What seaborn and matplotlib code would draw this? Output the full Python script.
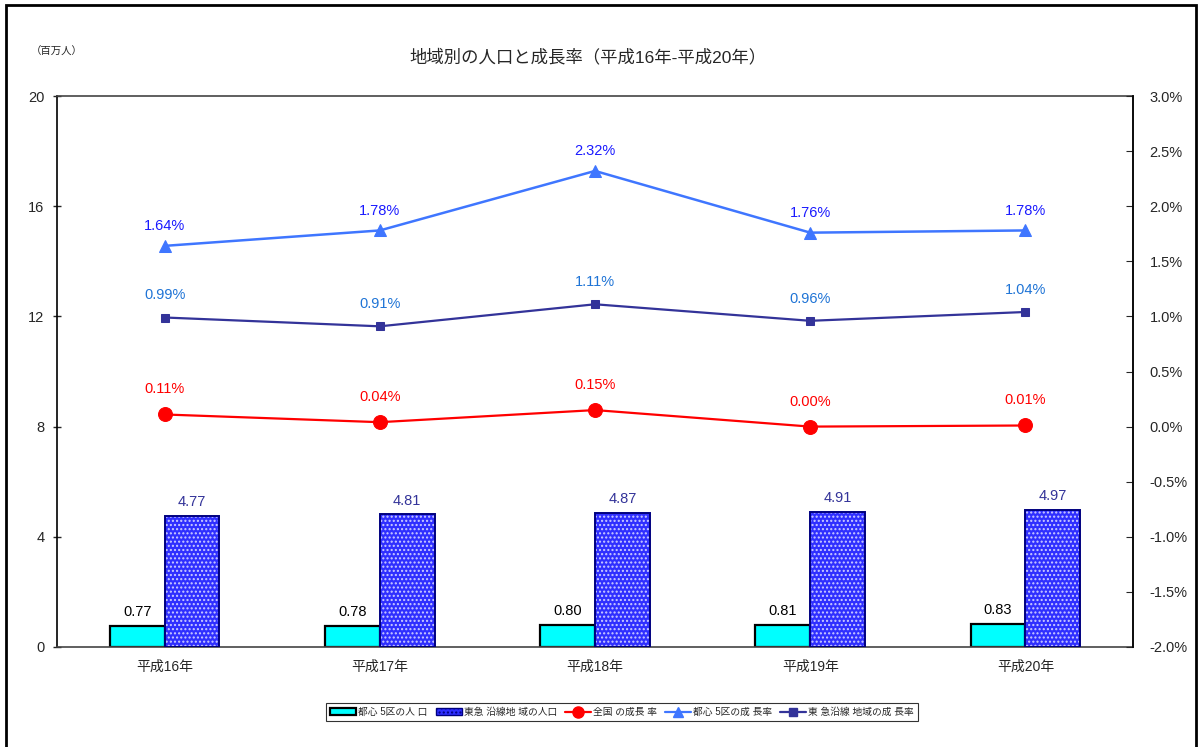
import numpy as np
import pandas as pd
import matplotlib
matplotlib.use("Agg")
import matplotlib.pyplot as plt
import seaborn as sns
from matplotlib.patches import Rectangle
from matplotlib.ticker import FuncFormatter, MultipleLocator
from matplotlib.lines import Line2D
from matplotlib.patches import Patch

# =============================================================================
# DATA
# =============================================================================
years = ['平成16年', '平成17年', '平成18年', '平成19年', '平成20年']
pop_toshin5 = [0.77, 0.78, 0.80, 0.81, 0.83]      # 百万人
pop_tokyu = [4.77, 4.81, 4.87, 4.91, 4.97]        # 百万人
growth_national = [0.11, 0.04, 0.15, 0.00, 0.01]  # %
growth_toshin5 = [1.64, 1.78, 2.32, 1.76, 1.78]   # %
growth_tokyu = [0.99, 0.91, 1.11, 0.96, 1.04]     # %

bar_names = ['都心 5区の人 口', '東急 沿線地 域の人口']
line_names = ['全国 の成長 率', '都心 5区の成 長率', '東 急沿線 地域の成 長率']

# =============================================================================
# STYLE
# =============================================================================
sns.set_style("white")
plt.rcParams['font.family'] = ['Liberation Sans', 'Noto Sans CJK JP', 'DejaVu Sans']

CYAN = '#00ffff'
BLUE = '#2f2fff'
NAVY = '#000080'
RED = '#ff0000'
LBLUE = '#3f76ff'
DNAVY = '#333399'

fig = plt.figure(figsize=(12.02, 7.47), dpi=100)
ax = fig.add_axes([57 / 1202, 1 - 647 / 747, 1076 / 1202, 551 / 747])

# --- bars ---
df = pd.DataFrame({
    'year': years * 2,
    'pop': pop_toshin5 + pop_tokyu,
    'series': [bar_names[0]] * 5 + [bar_names[1]] * 5,
})
sns.barplot(data=df, x='year', y='pop', hue='series', palette=[CYAN, BLUE],
            width=0.51, dodge=True, ax=ax, legend=False, saturation=1)

n = len(years)
for i, p in enumerate(ax.patches[:2 * n]):
    if i < n:
        p.set_edgecolor('black')
        p.set_linewidth(1.6)
    else:
        p.set_hatch('....')
        p.set_edgecolor('#ccccff')
        p.set_linewidth(0)
        ax.add_patch(Rectangle(p.get_xy(), p.get_width(), p.get_height(),
                               fill=False, edgecolor=NAVY, linewidth=1.4, zorder=3))

for i, p in enumerate(ax.patches[:2 * n]):
    val = p.get_height()
    col = 'black' if i < n else DNAVY
    ax.annotate(f'{val:.2f}', (p.get_x() + p.get_width() / 2, val),
                xytext=(0, 10), textcoords='offset points',
                ha='center', va='center', fontsize=10.5, color=col)

ax.set_ylim(0, 20)
ax.yaxis.set_major_locator(MultipleLocator(4))
ax.set_xlim(-0.5, n - 0.5)
ax.set_xlabel('')
ax.set_ylabel('')
ax.set_xticks(np.arange(n))
ax.set_xticklabels(years, fontsize=10)
ax.set_xticks(np.arange(n + 1) - 0.5, minor=True)
ax.tick_params(axis='x', which='major', length=0, pad=9)
ax.tick_params(axis='x', which='minor', length=5, direction='in', width=1)
ax.tick_params(axis='y', length=6, direction='inout', labelsize=10.5, width=1, pad=6)
for s in ax.spines.values():
    s.set_color('#444444')
    s.set_linewidth(1.2)
ax.spines['left'].set_color('black')

# --- lines (right axis) ---
ax2 = ax.twinx()
xs = np.arange(n)
sns.lineplot(x=xs, y=growth_national, color=RED, marker='o', markersize=10,
             markeredgecolor=RED, linewidth=1.6, ax=ax2)
sns.lineplot(x=xs, y=growth_toshin5, color=LBLUE, marker='^', markersize=8,
             markeredgecolor=LBLUE, linewidth=1.8, ax=ax2)
sns.lineplot(x=xs, y=growth_tokyu, color=DNAVY, marker='s', markersize=6,
             markeredgecolor=DNAVY, linewidth=1.6, ax=ax2)

for vals, col, off in [(growth_national, RED, 18),
                       (growth_toshin5, '#1a1aff', 14),
                       (growth_tokyu, '#1f74d6', 16)]:
    for x, v in zip(xs, vals):
        ax2.annotate(f'{v:.2f}%', (x, v), xytext=(0, off), textcoords='offset points',
                     ha='center', va='center', fontsize=10.5, color=col)

ax2.set_ylim(-2.0, 3.0)
ax2.yaxis.set_major_locator(MultipleLocator(0.5))
ax2.yaxis.set_major_formatter(FuncFormatter(lambda v, _: f'{v:.1f}%'))
ax2.tick_params(axis='y', length=5, direction='in', labelsize=10.5, pad=12)
ax2.set_xlim(-0.5, n - 0.5)
ax2.spines['right'].set_color('black')
ax2.spines['right'].set_linewidth(1.2)
for s in ['top', 'left', 'bottom']:
    ax2.spines[s].set_visible(False)

# --- titles ---
fig.text(588 / 1202, 1 - 57 / 747, '地域別の人口と成長率（平成16年-平成20年）',
         ha='center', va='center', fontsize=12.5)
fig.text(57 / 1202, 1 - 52 / 747, '（百万人）', ha='center', va='center', fontsize=7.5)

# --- legend ---
handles = [
    Patch(facecolor=CYAN, edgecolor='black', linewidth=1.6),
    Patch(facecolor=BLUE, edgecolor=NAVY, hatch='....', linewidth=1),
    Line2D([], [], color=RED, marker='o', markersize=8, linewidth=1.6),
    Line2D([], [], color=LBLUE, marker='^', markersize=7, linewidth=1.6),
    Line2D([], [], color=DNAVY, marker='s', markersize=6, linewidth=1.6),
]
leg = fig.legend(handles, bar_names + line_names, loc='center', ncol=5,
                 bbox_to_anchor=(622 / 1202, 1 - 712 / 747), fontsize=7,
                 frameon=True, fancybox=False, edgecolor='black',
                 handlelength=2.7, handletextpad=0.2, columnspacing=0.8,
                 borderpad=0.4)
leg.get_frame().set_linewidth(0.8)

# --- outer frame ---
fig.add_artist(Rectangle((6 / 1202, -0.01), 1190 / 1202, 1 - 5 / 747 + 0.01,
                         transform=fig.transFigure, fill=False,
                         edgecolor='black', linewidth=2))

fig.savefig('out.png', dpi=100)
